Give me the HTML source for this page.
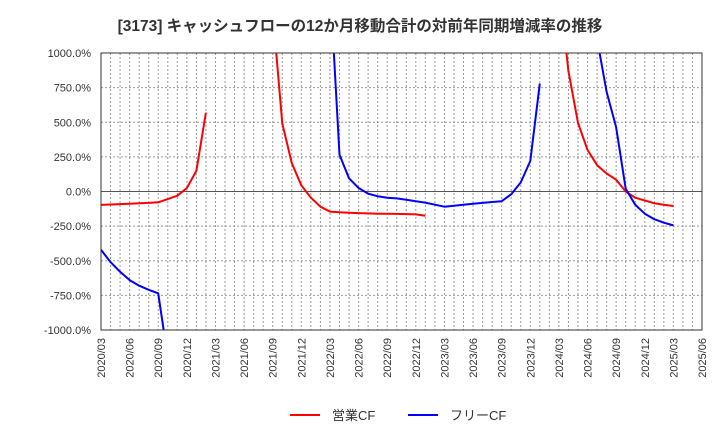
<!DOCTYPE html>
<html><head><meta charset="utf-8"><style>body{margin:0;background:#fff}svg{font-family:"Liberation Sans","Noto Sans CJK JP",sans-serif}</style></head>
<body>
<svg id="c" width="720" height="440">
<text x="360" y="31" text-anchor="middle" font-size="15.5" font-weight="bold" fill="#333">[3173]  キャッシュフローの12か月移動合計の対前年同期増減率の推移</text>
<defs><clipPath id="pc"><rect x="101" y="53" width="601" height="277"/></clipPath></defs>
<g id="grid"></g>
<g id="series" clip-path="url(#pc)"></g>
<rect x="101" y="53" width="601" height="277" fill="none" stroke="#333"/>
<g id="axes"></g>
<g>
<line x1="290" y1="415" x2="320" y2="415" stroke="#f00" stroke-width="2"/>
<text x="332" y="420" font-size="13" fill="#333">営業CF</text>
<line x1="408" y1="415" x2="438" y2="415" stroke="#00f" stroke-width="2"/>
<text x="450" y="420" font-size="13" fill="#333">フリーCF</text>
</g>
</svg>
<script>
const yTicks=[1000,750,500,250,0,-250,-500,-750,-1000];
const yTickLabels=["1000.0%","750.0%","500.0%","250.0%","0.0%","-250.0%","-500.0%","-750.0%","-1000.0%"];
const xTickLabels=["2020/03","2020/06","2020/09","2020/12","2021/03","2021/06","2021/09","2021/12","2022/03","2022/06","2022/09","2022/12","2023/03","2023/06","2023/09","2023/12","2024/03","2024/06","2024/09","2024/12","2025/03","2025/06"];
const N=64;
const operatingCF=[-97,-94,-91,-88,-85,-82,-78,-55,-30,25,150,570,null,null,null,null,null,null,1300,490,205,45,-45,-110,-145,-150,-153,-156,-158,-160,-161,-162,-163,-165,-175,null,null,null,null,null,null,null,null,null,null,null,null,null,1500,870,495,300,190,130,85,0,-45,-65,-85,-95,-105];
const freeCF=[-420,-510,-580,-640,-680,-710,-735,-1200,null,null,null,null,null,null,null,null,null,null,null,null,null,null,null,null,1500,265,95,25,-15,-35,-45,-50,-60,-70,-80,-95,-110,-103,-96,-89,-82,-76,-70,-20,65,220,780,null,null,null,null,null,1100,720,465,20,-95,-160,-200,-225,-245];
const NS="http://www.w3.org/2000/svg";
const X0=101,W=601,Y0=53,H=277;
const xs=i=>X0+i*(W/63);
const ys=v=>Y0+(1000-v)/2000*H;
function mk(t,a,p){const e=document.createElementNS(NS,t);for(const k in a)e.setAttribute(k,a[k]);p.appendChild(e);return e;}
const g=document.getElementById('grid'),ax=document.getElementById('axes'),s=document.getElementById('series');
for(let i=1;i<63;i++){const l=mk('line',{x1:xs(i),x2:xs(i),y1:Y0,y2:Y0+H,stroke:'#999','stroke-dasharray':'2,2','stroke-width':1},g);
}
yTicks.forEach((v,k)=>{const y=ys(v);
if(v!==1000&&v!==-1000){const l=mk('line',{x1:X0,x2:X0+W,y1:y,y2:y,stroke:v===0?'#555':'#999','stroke-dasharray':v===0?'':'2,2','stroke-width':1},g);
}
const t=mk('text',{x:91,y:y+4,'text-anchor':'end','font-size':11,fill:'#333'},ax);t.textContent=yTickLabels[k];
});
xTickLabels.forEach((lab,k)=>{const x=xs(k*3);
const t=mk('text',{x:0,y:0,transform:`translate(${x+4},338) rotate(-90)`,'text-anchor':'end','font-size':11,fill:'#333'},ax);t.textContent=lab;
});
function draw(arr,col,name){let d='',pen=false;arr.forEach((v,i)=>{if(v===null){pen=false;return;}d+=(pen?'L':'M')+xs(i).toFixed(1)+','+ys(v).toFixed(1);pen=true;});
const p=mk('path',{d:d,fill:'none',stroke:col,'stroke-width':2,'stroke-linejoin':'round'},s);
}
draw(operatingCF,'#f00','operating-cf-line');
draw(freeCF,'#00f','free-cf-line');
</script>
</body></html>
